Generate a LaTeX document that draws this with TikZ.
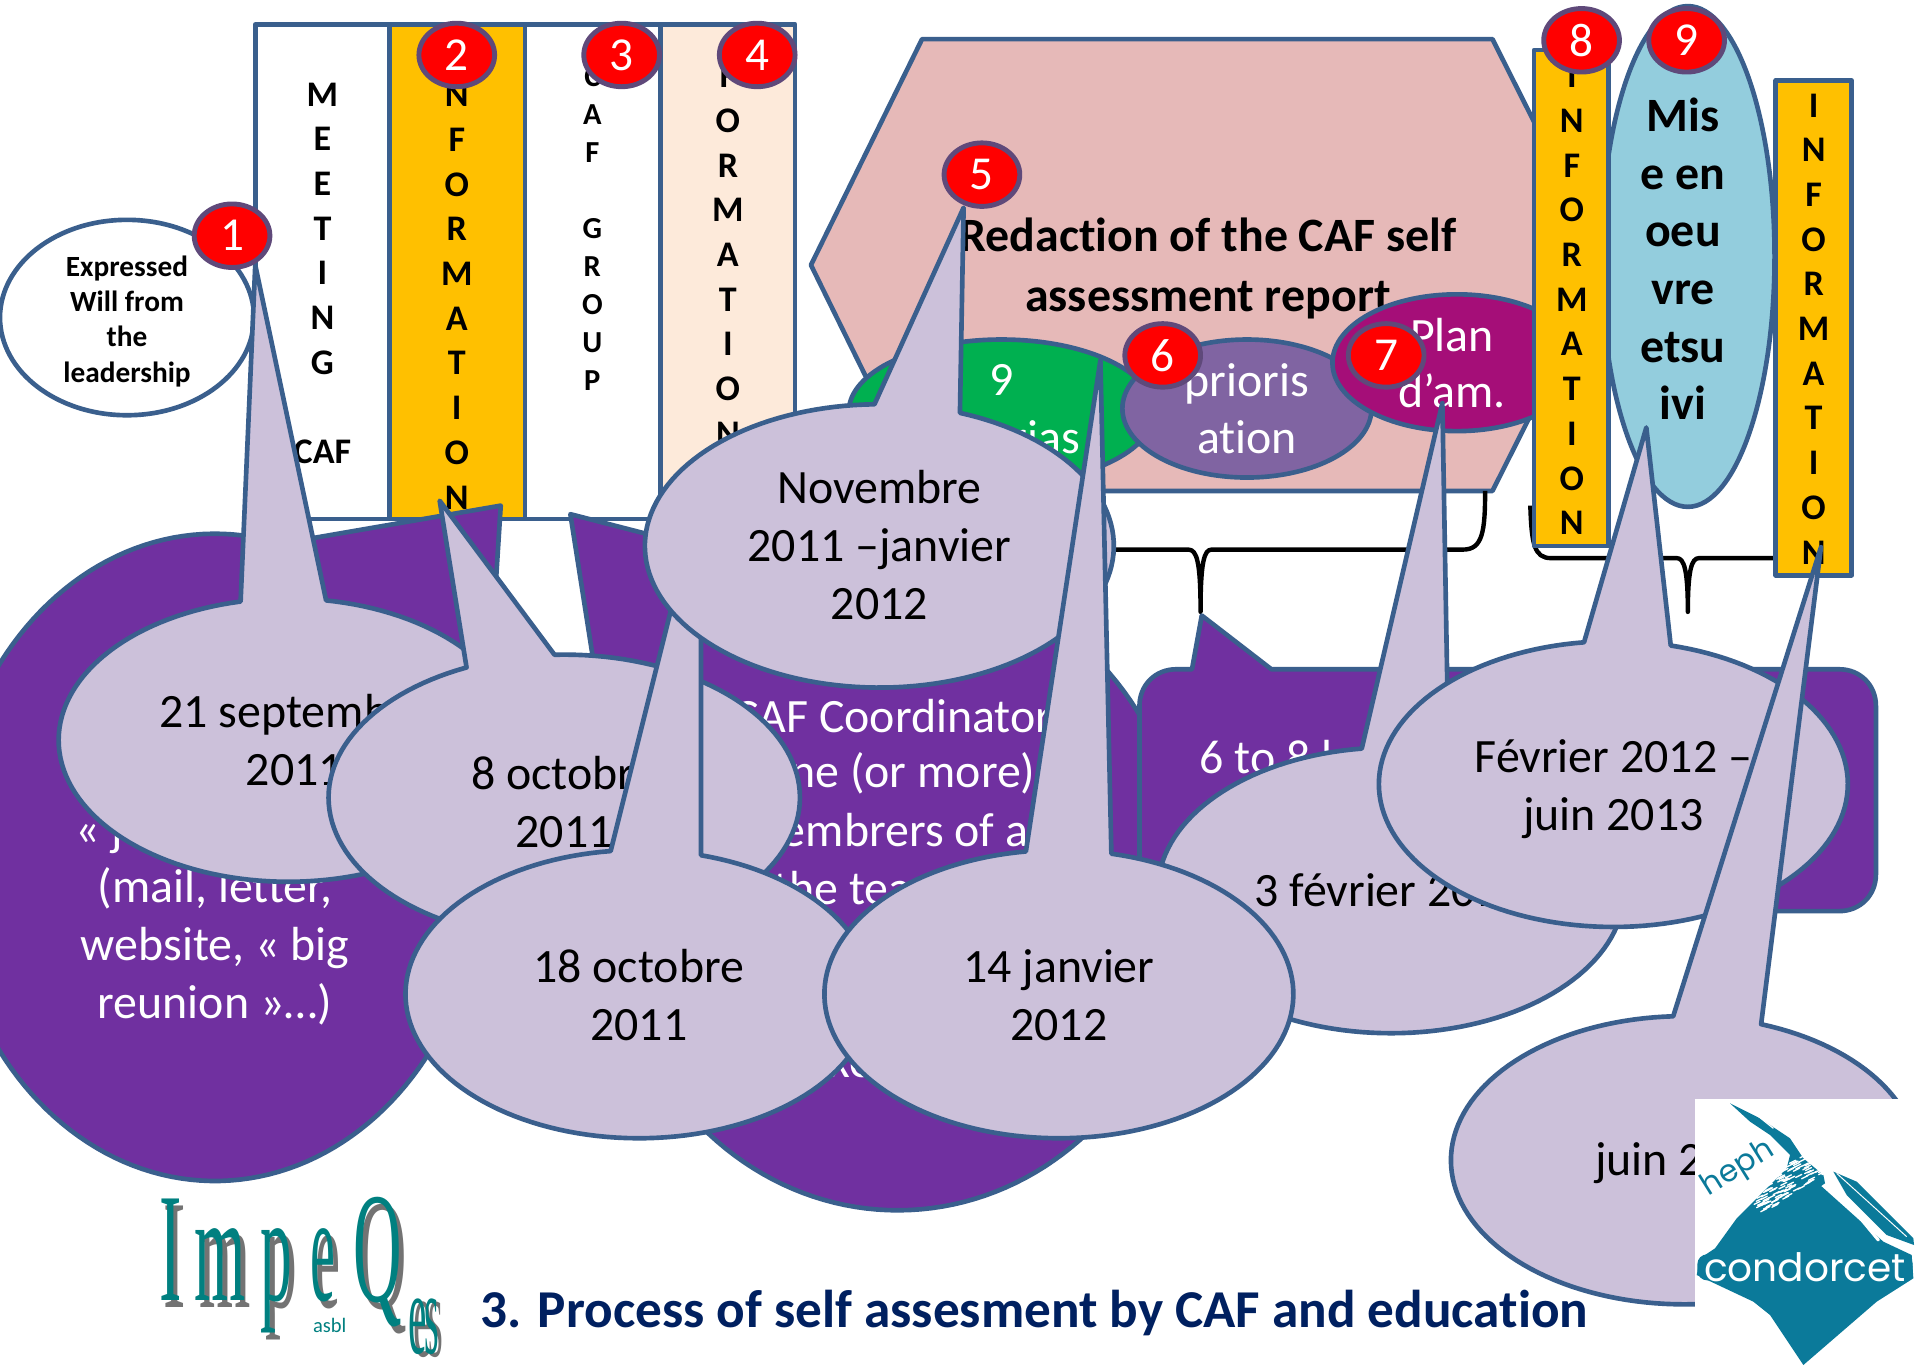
\documentclass[tikz,border=0pt]{standalone}
\usepackage{fontspec}
\usepackage{graphicx}
\usetikzlibrary{shapes.geometric}
\setmainfont[RawFeature={-liga;-clig;-dlig}]{Carlito}
\newfontfamily\wafont{Liberation Serif}
\newfontfamily\logofont{Poppins}
\definecolor{edge}{HTML}{3A5F8D}
\definecolor{lilac}{HTML}{CCC1DA}
\definecolor{purp}{HTML}{7030A0}
\definecolor{amber}{HTML}{FFC000}
\definecolor{peach}{HTML}{FDEADA}
\definecolor{rosy}{HTML}{E6B9B8}
\definecolor{grn}{HTML}{00B050}
\definecolor{viol}{HTML}{8064A2}
\definecolor{magen}{HTML}{A50E78}
\definecolor{sky}{HTML}{93CDDD}
\definecolor{badgeedge}{HTML}{5F497A}
\definecolor{navy}{HTML}{002060}
\definecolor{tealw}{HTML}{008080}
\definecolor{shadw}{HTML}{737373}
\definecolor{logoc}{HTML}{0B7A9A}
\newcommand\fsz[2]{\fontsize{#1}{#2}\selectfont}
\tikzset{
  shp/.style={draw=edge,line width=3.8pt,line join=round},
  txt/.style={inner sep=0pt,align=center,font=\fsz{39.2}{47.5}},
  btxt/.style={inner sep=0pt,align=center,font=\fsz{39.2}{47.5}\bfseries},
  wtxt/.style={txt,text=white},
  vtxt/.style={inner sep=0pt,align=center,anchor=north,font=\fsz{29.5}{36.6}\bfseries},
  vsmall/.style={inner sep=0pt,align=center,anchor=north,font=\fsz{25}{31.1}\bfseries},
  badge/.style={ellipse,draw=badgeedge,line width=4pt,fill=red,text=white,minimum width=62pt,minimum height=52pt,inner sep=0pt,font=\fsz{38.7}{40}},
  blob/.style={ellipse,shp,inner sep=0pt,align=center},
  wa/.style={inner sep=0pt,anchor=base west},
  brace/.style={draw=black,line width=3.6pt,line join=round}
}
% cx cy rx ry tipx tipy baseLx baseRx fill
\newcommand\bubble[9]{%
  \pgfmathsetmacro\angR{-acos((#8-#1)/#3)}%
  \pgfmathsetmacro\angL{360-acos((#7-#1)/#3)}%
  \draw[shp,fill=#9] plot[domain=\angR:\angL,samples=140,variable=\t] ({#1+#3*cos(\t)},{#2+#4*sin(\t)}) -- (#5,#6) -- cycle;
}
\newcommand\wordart[7]{%
  \node[wa,text=shadw] (#6s) at (#1+4,#2+#7) {\wafont\fontsize{100}{100}\selectfont\scalebox{#3}[#4]{#5}};
  \node[wa,text=tealw] (#6) at (#1,#2) {\wafont\fontsize{100}{100}\selectfont\scalebox{#3}[#4]{#5}};
}
\begin{document}
\begin{tikzpicture}[x=1pt,y=-1pt]
\useasboundingbox (0,0) rectangle (1568,1118);
\clip (0,0) rectangle (1568,1118);
\fill[white] (0,0) rectangle (1568,1118);

% leadership ellipse
\node[blob,fill=white,minimum width=208pt,minimum height=160pt] (will) at (104,260) {};
\node[inner sep=0pt,align=center,font=\fsz{24}{29}\bfseries] (willt) at (104,263) {Expressed\\Will from\\the\\leadership};

% four columns
\draw[shp,fill=white] (209,20) rectangle (319,425);
\draw[shp,fill=amber] (319,20) rectangle (430,425);
\draw[shp,fill=white] (430,20) rectangle (541,425);
\draw[shp,fill=peach] (541,20) rectangle (651,425);
\node[vtxt] (col1) at (264,67.5) {M\\E\\E\\T\\I\\N\\G\\~\\CAF};
\node[vtxt] (col2) at (374,31.5) {I\\N\\F\\O\\R\\M\\A\\T\\I\\O\\N};
\node[vsmall] (col3) at (485,54.5) {C\\A\\F\\~\\G\\R\\O\\U\\P};
\node[vtxt] (col4) at (596,52.5) {F\\O\\R\\M\\A\\T\\I\\O\\N};

% hexagon
\draw[shp,fill=rosy] (755,32) -- (1222,32) -- (1315,217) -- (1222,402) -- (755,402) -- (664,217) -- cycle;
\node[btxt,font=\fsz{39.2}{49}\bfseries] (redac) at (989,220) {Redaction of the CAF self\\assessment report};
\node[blob,fill=grn,minimum width=250pt,minimum height=118pt] (crit) at (820,337) {};
\node[wtxt] (crit9) at (820,311) {9};
\node[wtxt] (critt) at (820,358) {criterias};
\node[blob,fill=viol,minimum width=204pt,minimum height=113pt,text=white,font=\fsz{39.2}{47}] (prio) at (1021,334.5) {prioris\\ation};
\node[blob,fill=magen,minimum width=204pt,minimum height=112pt] (plan) at (1193,297) {};
\node[wtxt,font=\fsz{39.2}{46}] (plant) at (1189,297.5) {Plan\\d’am.};

% blue ellipse and yellow columns
\node[blob,fill=sky,minimum width=142pt,minimum height=410pt] (mise) at (1382,210) {};
\node[btxt,font=\fsz{39.2}{47.2}\bfseries] (miset) at (1378,212) {Mis\\e en\\oeu\\vre\\etsu\\ivi};

% braces
\coordinate (br1a) at (1216,402);
\coordinate (br1b) at (983,501);
\coordinate (br1c) at (760,450);
\draw[brace] (br1a) .. controls (1216,435) and (1214,450) .. (1198,450) -- (992,450) .. controls (986,450) and (983,460) .. (br1b) .. controls (983,460) and (980,450) .. (973,450) -- (br1c);
\coordinate (br2a) at (1253,414);
\coordinate (br2b) at (1382,501);
\coordinate (br2c) at (1500,457);
\draw[brace] (br2a) .. controls (1254,445) and (1256,457) .. (1270,457) -- (1373,457) .. controls (1379,457) and (1382,467) .. (br2b) .. controls (1382,467) and (1385,457) .. (1391,457) -- (br2c);

\draw[shp,fill=amber] (1256,41) rectangle (1317,447);
\node[vtxt] (col8) at (1287,52.5) {I\\N\\F\\O\\R\\M\\A\\T\\I\\O\\N};
\draw[shp,fill=amber] (1454,66) rectangle (1516,471);
\node[vtxt] (col10) at (1485,76.5) {I\\N\\F\\O\\R\\M\\A\\T\\I\\O\\N};

% purple callouts
\bubble{176}{702}{220}{265}{410}{414}{230}{394}{purp}
\node[wtxt] (pl1) at (62,682) [anchor=west] {« journal »};
\node[wtxt] (pl2) at (176,775) {(mail, letter,\\website, « big\\reunion »…)};
\bubble{735}{730}{238}{261}{467}{421}{505}{680}{purp}
\node[wtxt,anchor=west] (pm1) at (600,586) {CAF Coordinator};
\node[wtxt,anchor=east] (pm2) at (848,633) {One (or more)};
\node[wtxt,anchor=east] (pm3) at (842,680) {membrers of a};
\node[wtxt,anchor=west] (pm4) at (633,727) {the team};
\node[wtxt] (pm5) at (697,873) {xe};
\draw[shp,fill=purp] (933,578) .. controls (933,561) and (946,548) .. (963,548) -- (976,548) -- (984,504) -- (1041,548) -- (1506,548) .. controls (1523,548) and (1536,561) .. (1536,578) -- (1536,716) .. controls (1536,733) and (1523,746) .. (1506,746) -- (963,746) .. controls (946,746) and (933,733) .. (933,716) -- cycle;
\node[wtxt,anchor=west] (pr1) at (982,620) {6 to 8 l};

% date bubbles
\bubble{236}{606}{188}{116}{209}{217}{197}{267}{lilac}
\node[txt] (d1) at (241,606) {21 septembre\\2011};
\bubble{462}{653}{193}{117}{360}{410}{382}{454}{lilac}
\node[txt] (d2) at (462,657) {8 octobre\\2011};
\bubble{523}{814}{191}{118}{574}{401}{500}{574}{lilac}
\node[txt] (d3) at (523,815) {18 octobre\\2011};
\bubble{720}{447}{192}{116}{789}{170}{716}{786}{lilac}
\node[txt] (d4) at (720,446) {Novembre\\2011 –janvier\\2012};
\bubble{1139}{729}{191}{117}{1181}{330}{1115}{1186}{lilac}
\node[txt,anchor=west] (d5) at (1027,729) {3 février 2012};
\bubble{867}{814}{192}{118}{901}{295}{840}{910}{lilac}
\node[txt] (d6) at (867,815) {14 janvier\\2012};
\bubble{1321}{642}{192}{117}{1348}{350}{1297}{1368}{lilac}
\node[txt] (d7) at (1321,646) {Février 2012 –\\juin 2013};
\bubble{1379}{950}{191}{118}{1491}{448}{1370}{1442}{lilac}
\node[txt,anchor=west] (d8) at (1306,952) {juin 2013};

% title
\node[inner sep=0pt,text=navy,font=\fsz{43.6}{48}\bfseries] (title) at (847,1075) {3. Process of self assesment by CAF and education};

% ImpeQes word art
\wordart{130}{1064.5}{0.55}{1.27}{I}{wI}{6}
\wordart{159}{1064.5}{0.54}{1.25}{m}{wm}{6}
\wordart{213}{1064.5}{0.52}{1.25}{p}{wp}{6}
\wordart{254}{1064.5}{0.46}{1.25}{e}{we}{6}
\wordart{289}{1065.5}{0.55}{1.29}{Q}{wQ}{6}
\wordart{334}{1108}{0.34}{0.95}{e}{we2}{3}
\wordart{347}{1108}{0.31}{0.95}{s}{ws}{3}
\node[inner sep=0pt,text=tealw,font=\fsz{16.8}{18}] (asbl) at (270,1085) {asbl};

% condorcet logo
\fill[white] (1388,900) rectangle (1568,1118);
\begin{scope}[shift={(1383.8,896.6)},x=0.2729pt,y=-0.2729pt]
\fill[logoc] (390,270) -- (580,440) -- (665,480) -- (670,550) -- (560,620) -- (340,810) -- (240,660) -- (190,620) -- (20,540) -- (30,490) -- (75,460) -- (140,370) -- (200,400) -- cycle;
\fill[logoc] (120,25) -- (210,70) -- (300,130) -- (340,190) -- (400,240) -- (405,265) -- (280,350) -- (210,440) -- (140,370) -- (200,310) -- (290,220) -- (300,180) -- (240,120) -- (180,80) -- cycle;
\fill[logoc] (430,230) -- (500,260) -- (670,430) -- (672,450) -- (590,420) -- (470,300) -- cycle;
% brush speckles
\pgfmathsetseed{7}
\foreach \i in {1,...,130}{
  \pgfmathsetmacro\u{rnd}\pgfmathsetmacro\v{rnd}
  \pgfmathsetmacro\px{150+230*\u+60*\v}
  \pgfmathsetmacro\py{370-150*\u+60*\v-70}
  \draw[white,line width=1.1pt,line cap=round] (\px,\py) -- ++(18,-9);
}
\draw[white,line width=2.6pt,line cap=round] (410,250) -- (470,320) -- (565,435);
\draw[white,line width=0.8pt] (440,235) -- (650,425);
\draw[white,line width=1pt] (200,60) -- (250,100);
\fill[logoc,rounded corners=8pt] (22,478) rectangle (668,556);
\node[inner sep=0pt,text=white,font=\logofont\fsz{32}{34}] (cond) at (345,516) {condorcet};
\node[inner sep=0pt,text=logoc,rotate=32,font=\logofont\fsz{25}{27}] (heph) at (145,222) {heph};
\end{scope}

% badges
\node[badge] (b1) at (190,193) {1};
\node[badge] (b2) at (374,45) {2};
\node[badge] (b3) at (509,45) {3};
\node[badge] (b4) at (620,45) {4};
\node[badge] (b5) at (804,143) {5};
\node[badge] (b6) at (952,291) {6};
\node[badge] (b7) at (1135,291) {7};
\node[badge] (b8) at (1295,33) {8};
\node[badge] (b9) at (1381,33) {9};
\end{tikzpicture}
\end{document}
